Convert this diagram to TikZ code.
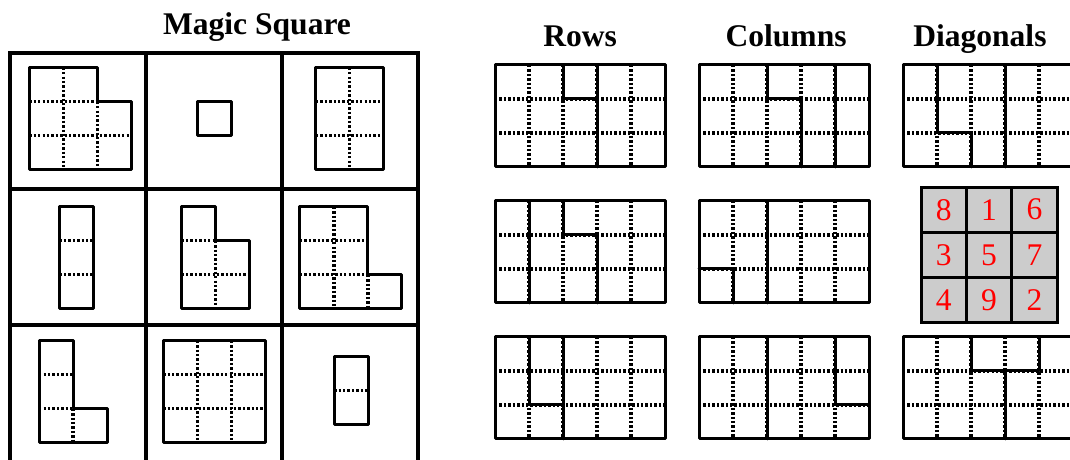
\documentclass[tikz,border=0pt]{standalone}
\usepackage{fontspec}
\setmainfont{Liberation Serif}
\usepackage{xcolor}
\usepackage{tikz}
\usetikzlibrary{calc}

\begin{document}
\begin{tikzpicture}[x=1cm, y=-1cm,
    frame/.style={line width=3.3pt, line cap=rect},
    wall/.style={line width=2.5pt, line cap=round, line join=round},
    seam/.style={line width=2.7pt, dash pattern=on 2pt off 1.7pt},
    heading/.style={font=\fontsize{26.4}{30}\selectfont\bfseries, anchor=base, inner sep=0pt},
    numcell/.style={draw, line width=2.5pt, fill=black!20, text=red, minimum size=1.333cm, inner sep=0pt, font=\fontsize{26.4}{30}\selectfont}]
	\useasboundingbox (0,0) rectangle (31.47,13.5);
	\clip (0,0) rectangle (31.47,13.5);
	% headings
	\node[heading] (magic) at (7.56,1.0) {Magic Square};
	\node[heading] (rows) at (17.06,1.38) {Rows};
	\node[heading] (cols) at (23.12,1.38) {Columns};
	\node[heading] (diags) at (28.82,1.38) {Diagonals};
	% magic square frame
	\begin{scope}[shift={(0.294,1.559)}]
		\foreach \k in {0,4,8,12} \draw[frame] (\k,0) -- (\k,12.2);
		\foreach \k in {0,4,8} \draw[frame] (0,\k) -- (12,\k);
	\end{scope}
	% 8
	\begin{scope}[shift={(0.86,1.99)}]
		\draw[seam] (1,0) -- (1,3) (2,1) -- (2,3) (0,1) -- (2,1) (0,2) -- (3,2);
		\draw[wall] (0,0) -- (2,0) -- (2,1) -- (3,1) -- (3,3) -- (0,3) -- cycle;
	\end{scope}
	% 1
	\begin{scope}[shift={(5.82,2.99)}]
		\draw[wall] (0,0) rectangle (1,1);
	\end{scope}
	% 6
	\begin{scope}[shift={(9.29,1.99)}]
		\draw[seam] (1,0) -- (1,3) (0,1) -- (2,1) (0,2) -- (2,2);
		\draw[wall] (0,0) rectangle (2,3);
	\end{scope}
	% 3
	\begin{scope}[shift={(1.75,6.08)}]
		\draw[seam] (0,1) -- (1,1) (0,2) -- (1,2);
		\draw[wall] (0,0) rectangle (1,3);
	\end{scope}
	% 5
	\begin{scope}[shift={(5.34,6.08)}]
		\draw[seam] (0,1) -- (1,1) (0,2) -- (2,2) (1,1) -- (1,3);
		\draw[wall] (0,0) -- (1,0) -- (1,1) -- (2,1) -- (2,3) -- (0,3) -- cycle;
	\end{scope}
	% 7
	\begin{scope}[shift={(8.82,6.08)}]
		\draw[seam] (1,0) -- (1,3) (0,1) -- (2,1) (0,2) -- (2,2) (2,2) -- (2,3);
		\draw[wall] (0,0) -- (2,0) -- (2,2) -- (3,2) -- (3,3) -- (0,3) -- cycle;
	\end{scope}
	% 4
	\begin{scope}[shift={(1.15,10.02)}]
		\draw[seam] (0,1) -- (1,1) (0,2) -- (1,2) (1,2) -- (1,3);
		\draw[wall] (0,0) -- (1,0) -- (1,2) -- (2,2) -- (2,3) -- (0,3) -- cycle;
	\end{scope}
	% 9
	\begin{scope}[shift={(4.80,10.02)}]
		\draw[seam] (1,0) -- (1,3) (2,0) -- (2,3) (0,1) -- (3,1) (0,2) -- (3,2);
		\draw[wall] (0,0) rectangle (3,3);
	\end{scope}
	% 2
	\begin{scope}[shift={(9.83,10.49)}]
		\draw[seam] (0,1) -- (1,1);
		\draw[wall] (0,0) rectangle (1,2);
	\end{scope}
	% the 5x3 boards
	\foreach \gx/\gy in {14.56/1.91, 20.56/1.91, 26.56/1.91, 14.56/5.91, 20.56/5.91, 14.56/9.91, 20.56/9.91, 26.56/9.91} {
		\begin{scope}[shift={(\gx,\gy)}]
			\foreach \c in {1,...,4} \draw[seam] (\c,0) -- (\c,3);
			\foreach \r in {1,2} \draw[seam] (0,\r) -- (5,\r);
			\draw[wall] (0,0) rectangle (5,3);
		\end{scope}
	}
	% rows
	\draw[wall, shift={(14.56,1.91)}] (2,0) -- (2,1) -- (3,1) (3,0) -- (3,3);
	\draw[wall, shift={(14.56,5.91)}] (1,0) -- (1,3) (2,0) -- (2,1) -- (3,1) -- (3,3);
	\draw[wall, shift={(14.56,9.91)}] (1,0) -- (1,2) -- (2,2) (2,0) -- (2,3);
	% columns
	\draw[wall, shift={(20.56,1.91)}] (2,0) -- (2,1) -- (3,1) -- (3,3) (4,0) -- (4,3);
	\draw[wall, shift={(20.56,5.91)}] (0,2) -- (1,2) -- (1,3) (2,0) -- (2,3);
	\draw[wall, shift={(20.56,9.91)}] (2,0) -- (2,3) (4,0) -- (4,2) -- (5,2);
	% diagonals
	\draw[wall, shift={(26.56,1.91)}] (1,0) -- (1,2) -- (2,2) -- (2,3) (3,0) -- (3,3);
	\draw[wall, shift={(26.56,9.91)}] (2,0) -- (2,1) -- (4,1) -- (4,0) (3,1) -- (3,3);
	% numbers
	\foreach \v/\c/\r in {8/0/0, 1/1/0, 6/2/0, 3/0/1, 5/1/1, 7/2/1, 4/0/2, 9/1/2, 2/2/2}
		\node[numcell] (num\v) at ({27.09+0.6665+1.333*\c},{5.5+0.6665+1.333*\r}) {\v};
\end{tikzpicture}
\end{document}
